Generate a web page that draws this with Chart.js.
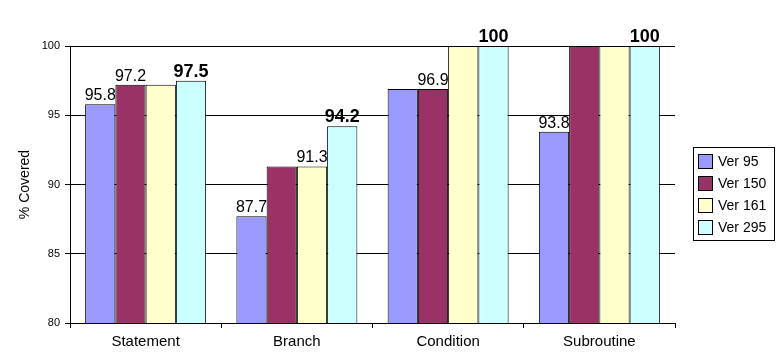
<!DOCTYPE html>
<html>
<head>
<meta charset="utf-8">
<script src="https://cdn.jsdelivr.net/npm/chart.js@4/dist/chart.umd.min.js"></script>
<style>
html,body{margin:0;padding:0;background:#fff;}
#wrap{width:778px;height:359px;position:relative;}
</style>
</head>
<body>
<div id="wrap"><canvas id="c" width="778" height="359"></canvas></div>
<script>
const categories = ['Statement', 'Branch', 'Condition', 'Subroutine'];
const seriesNames = ['Ver 95', 'Ver 150', 'Ver 161', 'Ver 295'];
const ver95  = [95.8, 87.7, 96.9, 93.8];
const ver150 = [97.2, 91.3, 96.9, 100];
const ver161 = [97.2, 91.3, 100, 100];
const ver295 = [97.5, 94.2, 100, 100];
// which bars carry a value label (1 = shown)
const label95  = [1, 1, 0, 1];
const label150 = [1, 0, 1, 0];
const label161 = [0, 1, 0, 0];
const label295 = [1, 1, 1, 1];
const yTicks = [80, 85, 90, 95, 100];

const colors = ['#9999FF', '#993366', '#FFFFCC', '#CCFFFF'];
const values = [ver95, ver150, ver161, ver295];
const shown = [label95, label150, label161, label295];
const FONT = '"Liberation Sans", Arial, sans-serif';

const datasets = seriesNames.map((n, i) => ({
  label: n,
  data: values[i],
  backgroundColor: colors[i],
  borderColor: '#000',
  borderWidth: 1,
  borderSkipped: false,
  categoryPercentage: 0.8,
  barPercentage: 1.0
}));

const labelPlugin = {
  id: 'valueLabels',
  afterDatasetsDraw(chart) {
    const ctx = chart.ctx;
    ctx.save();
    ctx.fillStyle = '#000';
    ctx.textAlign = 'center';
    ctx.textBaseline = 'alphabetic';
    chart.data.datasets.forEach((ds, di) => {
      const meta = chart.getDatasetMeta(di);
      meta.data.forEach((bar, j) => {
        if (!shown[di][j]) return;
        const bold = di === 3;
        ctx.font = (bold ? 'bold 18px ' : '16px ') + FONT;
        ctx.fillText(String(ds.data[j]), bar.x, bar.y - 4);
      });
    });
    ctx.restore();
  }
};

const legendPlugin = {
  id: 'boxLegend',
  afterDraw(chart) {
    const ctx = chart.ctx;
    ctx.save();
    const x0 = 693.5, y0 = 147.5, w = 81, h = 93;
    ctx.fillStyle = '#fff';
    ctx.fillRect(x0, y0, w, h);
    ctx.strokeStyle = '#000';
    ctx.lineWidth = 1;
    ctx.strokeRect(x0, y0, w, h);
    ctx.font = '14px ' + FONT;
    ctx.textBaseline = 'middle';
    ctx.textAlign = 'left';
    chart.data.datasets.forEach((ds, i) => {
      const sy = 154.5 + i * 22;
      ctx.fillStyle = ds.backgroundColor;
      ctx.fillRect(698.5, sy, 14, 14);
      ctx.strokeRect(698.5, sy, 14, 14);
      ctx.fillStyle = '#000';
      ctx.fillText(ds.label, 718, sy + 7.5);
    });
    ctx.restore();
  }
};

new Chart(document.getElementById('c'), {
  type: 'bar',
  data: { labels: categories, datasets },
  options: {
    responsive: false,
    animation: false,
    devicePixelRatio: 1,
    layout: { padding: { left: 17, right: 103, top: 46, bottom: 0 } },
    plugins: { legend: { display: false }, tooltip: { enabled: false } },
    scales: {
      x: {
        grid: { display: true, drawOnChartArea: false, drawTicks: true, tickLength: 5, color: '#000', offset: true },
        border: { display: true, color: '#000', width: 1 },
        ticks: { color: '#000', font: { family: FONT, size: 15 }, padding: 5 },
        afterFit(s) { s.height = 36; }
      },
      y: {
        min: 80, max: 100,
        afterBuildTicks(s) { s.ticks = yTicks.map(v => ({ value: v })); },
        grid: { color: '#000', lineWidth: 1, drawTicks: true, tickLength: 5 },
        border: { display: true, color: '#000', width: 1 },
        ticks: { color: '#000', font: { family: FONT, size: 11 }, padding: 5 },
        title: { display: true, text: '% Covered', color: '#000', font: { family: FONT, size: 14 }, padding: { top: 0, bottom: 8 } },
        afterFit(s) { s.width = 53; }
      }
    }
  },
  plugins: [labelPlugin, legendPlugin]
});
</script>
</body>
</html>
